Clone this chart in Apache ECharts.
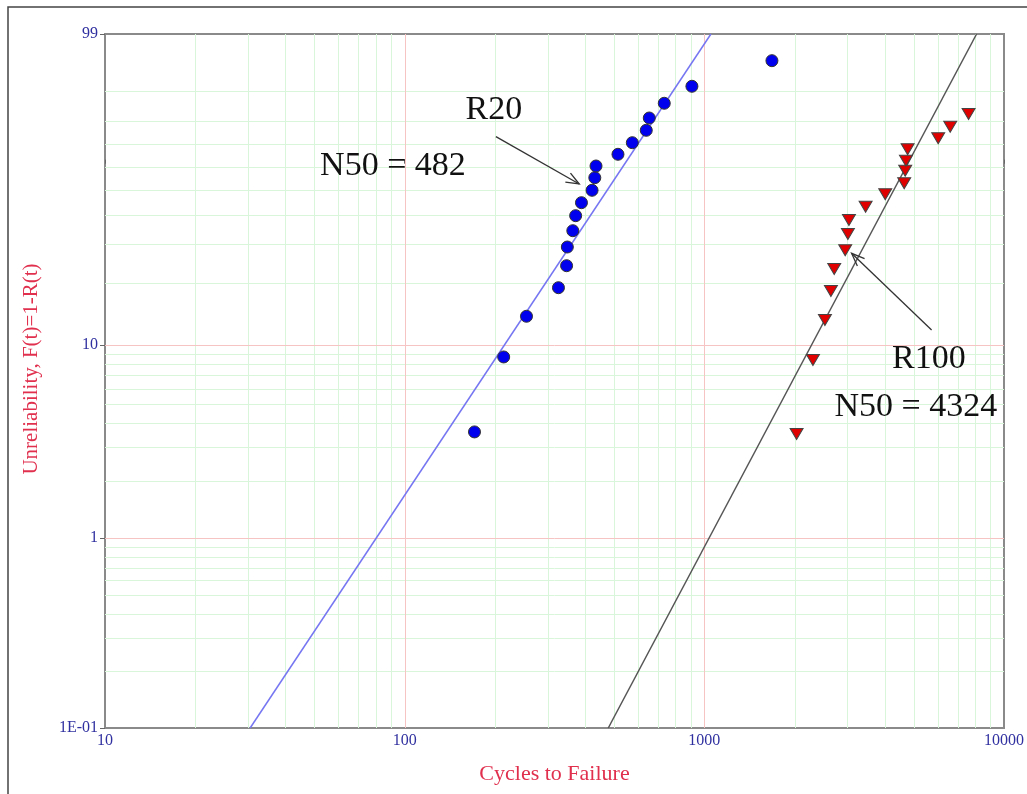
<!DOCTYPE html>
<html>
<head>
<meta charset="utf-8">
<script src="https://cdn.jsdelivr.net/npm/echarts@6/dist/echarts.min.js"></script>
<style>
html,body{margin:0;padding:0;background:#fff;}
#chart{width:1027px;height:794px;}
</style>
</head>
<body>
<div id="chart"></div>
<script>
// ---- data (cycles to failure, unreliability in %) ----
const blueCycles = [171, 214, 255, 326, 347, 349, 364, 372, 389, 422, 431, 435, 515, 575, 640, 655, 735, 909, 1681];
const blueF      = [3.59, 8.69, 13.85, 19.02, 24.09, 29.24, 34.41, 39.72, 44.72, 49.80, 55.21, 60.38, 65.61, 70.74, 76.04, 80.97, 86.25, 91.28, 96.42];
const redCycles  = [2032, 2304, 2526, 2645, 2713, 2952, 3014, 3038, 3453, 4015, 4645, 4681, 4707, 4769, 6032, 6615, 7618];
const redF       = [3.50, 8.39, 13.28, 18.35, 23.27, 28.28, 33.32, 38.14, 43.14, 48.13, 52.78, 58.29, 62.75, 67.83, 72.65, 77.53, 82.48];

// fitted Weibull lines (end points)
const blueFitCycles  = [30.5, 1052];
const blueFitF       = [0.1, 99];
const blackFitCycles = [478, 8100];
const blackFitF      = [0.1, 99];

// axis ticks
const xTicks       = [10, 100, 1000, 10000];
const yTickF       = [0.1, 1, 10, 99];
const yTickLabels  = ['1E-01', '1', '10', '99'];
const xMinorGrid   = [20,30,40,50,60,70,80,90,200,300,400,500,600,700,800,900,2000,3000,4000,5000,6000,7000,8000,9000];
const xMajorGrid   = [100, 1000];
const yMinorGridF  = [0.2,0.3,0.4,0.5,0.6,0.7,0.8,0.9,2,3,4,5,6,7,8,9,20,30,40,50,60,70,80,90];
const yMajorGridF  = [1, 10];

// annotations
const annTexts  = ['R20', 'N50 = 482', 'R100', 'N50 = 4324'];
const annCycles = [198.6, 91.4, 5615, 5082];
const annF      = [83.94, 60.38, 8.49, 4.83];
// arrows: [fromCycles, fromF, toCycles, toF]
const arrowFromCycles = [201.6, 5733];
const arrowFromF      = [73.34, 11.85];
const arrowToCycles   = [382.4, 3100];
const arrowToF        = [52.48, 27.42];

// Weibull probability transform
const W = F => Math.log(-Math.log(1 - F / 100));
const SERIF = '"Liberation Serif", "DejaVu Serif", serif';

const chart = echarts.init(document.getElementById('chart'), null, {renderer: 'canvas'});

function gridLine(color, vertical) {
  return function (params, api) {
    const cs = params.coordSys;
    const p = api.coord([api.value(0), api.value(1)]);
    if (vertical) {
      const x = Math.round(p[0]) + 0.5;
      return {type: 'line', shape: {x1: x, y1: cs.y, x2: x, y2: cs.y + cs.height},
              style: {stroke: color, lineWidth: 1}, silent: true};
    } else {
      const y = Math.round(p[1]) + 0.5;
      return {type: 'line', shape: {x1: cs.x, y1: y, x2: cs.x + cs.width, y2: y},
              style: {stroke: color, lineWidth: 1}, silent: true};
    }
  };
}

const MINOR = '#daf6da';
const MAJOR = '#f7c4c4';
const yMid = W(50);

const option = {
  animation: false,
  backgroundColor: '#ffffff',
  graphic: [{
    type: 'rect', z: -10, silent: true,
    shape: {x: 8, y: 7, width: 1060, height: 820},
    style: {fill: 'none', stroke: '#444', lineWidth: 1.5}
  }],
  grid: {
    left: 105, top: 34, right: 23, bottom: 66,
    show: true, borderColor: '#8a8a8a', borderWidth: 2, backgroundColor: 'transparent'
  },
  xAxis: {
    type: 'log', logBase: 10, min: 10, max: 10000,
    name: 'Cycles to Failure', nameLocation: 'middle', nameGap: 35,
    nameTextStyle: {color: '#e0304e', fontFamily: SERIF, fontSize: 22},
    axisLine: {show: false},
    axisTick: {show: true, length: 4, lineStyle: {color: '#666'}},
    axisLabel: {color: '#3030a0', fontFamily: SERIF, fontSize: 16, margin: 5,
                formatter: v => String(Math.round(v))},
    splitLine: {show: false}, minorSplitLine: {show: false}
  },
  yAxis: {
    type: 'value', min: W(0.1), max: W(99),
    name: 'Unreliability, F(t)=1-R(t)', nameLocation: 'middle', nameGap: 63,
    nameRotate: 90,
    nameTextStyle: {color: '#e0304e', fontFamily: SERIF, fontSize: 21, padding: [0, 0, 0, 24]},
    axisLine: {show: false},
    axisTick: {show: true, length: 5, customValues: yTickF.map(W), lineStyle: {color: '#666'}},
    axisLabel: {
      color: '#3030a0', fontFamily: SERIF, fontSize: 16, margin: 7,
      customValues: yTickF.map(W),
      formatter: function (v) {
        let best = 0, d = Infinity;
        yTickF.forEach((f, i) => { const dd = Math.abs(W(f) - v); if (dd < d) { d = dd; best = i; } });
        return yTickLabels[best];
      }
    },
    splitLine: {show: false}
  },
  series: [
    {type: 'custom', name: 'xMinor', z: 1, renderItem: gridLine(MINOR, true),
     data: xMinorGrid.map(x => [x, yMid]), silent: true},
    {type: 'custom', name: 'yMinor', z: 1, renderItem: gridLine(MINOR, false),
     data: yMinorGridF.map(f => [100, W(f)]), silent: true},
    {type: 'custom', name: 'xMajor', z: 2, renderItem: gridLine(MAJOR, true),
     data: xMajorGrid.map(x => [x, yMid]), silent: true},
    {type: 'custom', name: 'yMajor', z: 2, renderItem: gridLine(MAJOR, false),
     data: yMajorGridF.map(f => [100, W(f)]), silent: true},
    {type: 'line', name: 'R20 fit', z: 3, showSymbol: false, symbol: 'none',
     lineStyle: {color: '#7676f2', width: 1.5},
     data: blueFitCycles.map((c, i) => [c, W(blueFitF[i])]), clip: true},
    {type: 'line', name: 'R100 fit', z: 3, showSymbol: false, symbol: 'none',
     lineStyle: {color: '#555555', width: 1.5},
     data: blackFitCycles.map((c, i) => [c, W(blackFitF[i])]), clip: true},
    {type: 'scatter', name: 'R20', z: 5, symbol: 'circle', symbolSize: 12,
     itemStyle: {color: '#0000ee', borderColor: '#333', borderWidth: 1, opacity: 1},
     data: blueCycles.map((c, i) => [c, W(blueF[i])])},
    {type: 'scatter', name: 'R100', z: 5, symbol: 'triangle', symbolRotate: 180, symbolSize: [13, 11],
     itemStyle: {color: '#e00000', borderColor: '#444', borderWidth: 1, opacity: 1},
     data: redCycles.map((c, i) => [c, W(redF[i])])},
    {type: 'custom', name: 'arrows', z: 6, silent: true,
     encode: {x: [0, 2], y: [1, 3]},
     renderItem: function (params, api) {
       const p1 = api.coord([api.value(0), api.value(1)]);
       const p2 = api.coord([api.value(2), api.value(3)]);
       const ang = Math.atan2(p2[1] - p1[1], p2[0] - p1[0]);
       const L = 14, a = 0.38;
       const h1 = [p2[0] - L * Math.cos(ang - a), p2[1] - L * Math.sin(ang - a)];
       const h2 = [p2[0] - L * Math.cos(ang + a), p2[1] - L * Math.sin(ang + a)];
       const st = {stroke: '#333', lineWidth: 1.3, fill: 'none'};
       return {type: 'group', children: [
         {type: 'line', shape: {x1: p1[0], y1: p1[1], x2: p2[0], y2: p2[1]}, style: st},
         {type: 'polyline', shape: {points: [h1, p2, h2]}, style: st}
       ]};
     },
     data: arrowFromCycles.map((c, i) => [c, W(arrowFromF[i]), arrowToCycles[i], W(arrowToF[i])])},
    {type: 'custom', name: 'labels', z: 7, silent: true,
     renderItem: function (params, api) {
       const p = api.coord([api.value(0), api.value(1)]);
       return {type: 'text', x: p[0], y: p[1],
               style: {text: annTexts[params.dataIndex], fontFamily: SERIF, fontSize: 34,
                       fill: '#111', align: 'center', verticalAlign: 'middle'}};
     },
     data: annCycles.map((c, i) => [c, W(annF[i])])}
  ]
};
chart.setOption(option);
</script>
</body>
</html>
